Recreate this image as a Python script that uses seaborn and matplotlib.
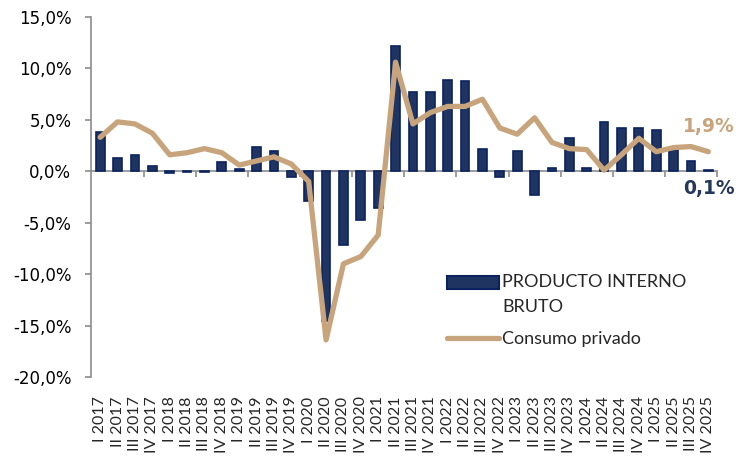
import numpy as np
import pandas as pd
import matplotlib
matplotlib.use("Agg")
import matplotlib.pyplot as plt
import seaborn as sns
from matplotlib.ticker import FuncFormatter, FixedLocator
from matplotlib.patches import Rectangle, Patch
from matplotlib.lines import Line2D
from matplotlib.legend_handler import HandlerPatch

quarters = ["I", "II", "III", "IV"]
years = [2017, 2018, 2019, 2020, 2021, 2022, 2023, 2024, 2025]
categories = [f"{q} {y}" for y in years for q in quarters]

pib = [3.8, 1.3, 1.6, 0.5, -0.2, -0.1, -0.1, 0.9,
       0.2, 2.4, 2.0, -0.6, -2.9, -14.6, -7.2, -4.7,
       -3.6, 12.2, 7.7, 7.7, 8.9, 8.8, 2.2, -0.6,
       2.0, -2.3, 0.3, 3.2, 0.3, 4.8, 4.2, 4.2,
       4.0, 2.3, 1.0, 0.1]

consumo = [3.3, 4.8, 4.6, 3.7, 1.6, 1.8, 2.2, 1.8,
           0.6, 1.0, 1.4, 0.7, -1.0, -16.4, -9.0, -8.3,
           -6.2, 10.6, 4.6, 5.7, 6.3, 6.3, 7.0, 4.2,
           3.6, 5.2, 2.8, 2.2, 2.1, 0.1, 1.6, 3.2,
           1.9, 2.3, 2.4, 1.9]

ytick_values = [-20, -15, -10, -5, 0, 5, 10, 15]

df = pd.DataFrame({"trimestre": categories, "pib": pib, "consumo": consumo,
                   "pos": np.arange(len(categories))})

sns.set_theme(style="white")
plt.rcParams["font.family"] = ["Lato", "DejaVu Sans"]

bar_color = "#1f3461"
bar_edge = "#0a2260"
line_color = "#c8a47c"
axis_color = "#8c8c8c"

fig = plt.figure(figsize=(7.48, 4.58), dpi=100)
ax = fig.add_axes([0.1223, 0.177, 0.9586 - 0.1223, 0.963 - 0.177])

sns.barplot(data=df, x="trimestre", y="pib", order=categories, ax=ax,
            color=bar_color, edgecolor=bar_edge, linewidth=1.2, width=0.5,
            saturation=1)
sns.lineplot(data=df, x="pos", y="consumo", ax=ax, color=line_color,
             linewidth=3.8)

ax.set_xlim(-0.5, len(categories) - 0.5)
ax.set_ylim(-20, 15)
ax.set_xlabel("")
ax.set_ylabel("")

ax.set_yticks(ytick_values)
ax.yaxis.set_major_formatter(FuncFormatter(lambda v, p: f"{v:.1f}%".replace(".", ",")))
ax.tick_params(axis="y", direction="out", length=4.5, width=1.2, color=axis_color,
               labelsize=12, labelcolor="black", pad=10, left=True)
for t in ax.get_yticklabels():
    t.set_fontfamily("DejaVu Sans")

for s in ["top", "right"]:
    ax.spines[s].set_visible(False)
ax.spines["left"].set_color(axis_color)
ax.spines["left"].set_linewidth(1.2)
ax.spines["bottom"].set_position(("data", 0))
ax.spines["bottom"].set_color(axis_color)
ax.spines["bottom"].set_linewidth(1.2)
ax.spines["bottom"].set_zorder(1)

boundaries = np.arange(2.5, len(categories), 3)
ax.xaxis.set_major_locator(FixedLocator(boundaries))
ax.tick_params(axis="x", direction="out", length=4, width=1.2, color=axis_color,
               labelbottom=False, bottom=True)

sec = ax.secondary_xaxis(0)
sec.set_xticks(range(len(categories)))
sec.set_xticklabels(categories, rotation=90, fontsize=11.5)
sec.tick_params(axis="x", length=0, pad=14)
sec.spines["bottom"].set_visible(False)

for p in ax.patches:
    p.set_zorder(2)
for l in ax.lines:
    l.set_zorder(3)


def raised_patch(legend, orig_handle, xdescent, ydescent, width, height, fontsize):
    return Rectangle((-xdescent, -ydescent + 0.65 * fontsize), width, height)


bar_handle = Patch(facecolor=bar_color, edgecolor=bar_edge, linewidth=1.5)
line_handle = Line2D([], [], color=line_color, linewidth=3.8)
leg = ax.legend([bar_handle, line_handle],
                ["PRODUCTO INTERNO\nBRUTO", "Consumo privado"],
                loc="upper left", bbox_to_anchor=(0.557, 0.307), frameon=False,
                fontsize=13, handlelength=2.85, handletextpad=0.2,
                labelspacing=0.9, borderaxespad=0,
                handler_map={Patch: HandlerPatch(patch_func=raised_patch)})
for t in leg.get_texts():
    t.set_linespacing(1.7)

ax.text(36.5, consumo[-1] + 2.4,
        f"{consumo[-1]:.1f}%".replace(".", ","), color=line_color,
        fontsize=13.5, fontweight="bold", family="DejaVu Sans",
        ha="right", va="center", clip_on=False)
ax.text(36.5, pib[-1] - 1.75,
        f"{pib[-1]:.1f}%".replace(".", ","), color="#25375a",
        fontsize=13.5, fontweight="bold", family="DejaVu Sans",
        ha="right", va="center", clip_on=False)

fig.savefig("out.png", dpi=100)
